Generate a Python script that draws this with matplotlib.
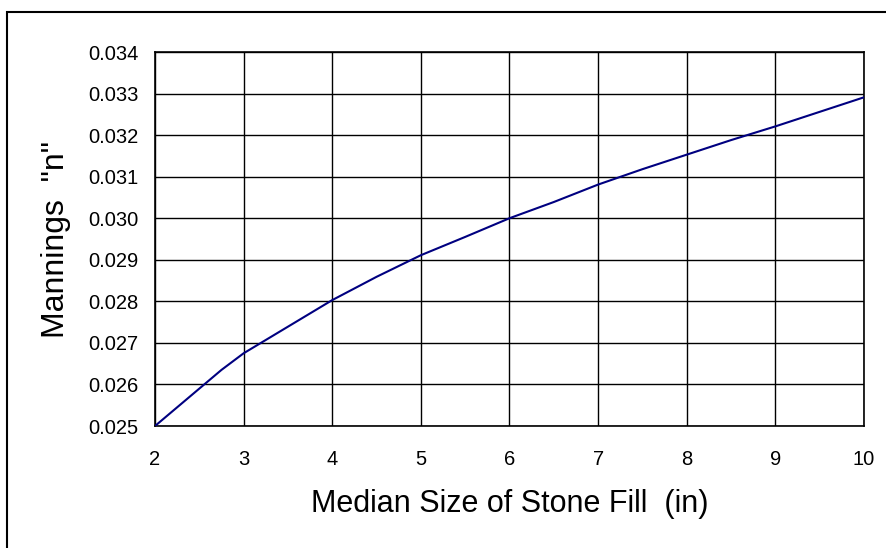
import matplotlib.pyplot as plt
from matplotlib.patches import Rectangle

plt.rcParams['font.family'] = ['Liberation Sans', 'DejaVu Sans']

# values
stone_size = [2, 2.5, 2.75, 3, 3.5, 4, 4.5, 5, 5.5, 6, 6.5, 7, 7.5, 8, 8.5, 9, 9.5, 10]
mannings_n = [0.0250, 0.02590, 0.02635, 0.02675, 0.02739, 0.02803, 0.02859, 0.02911,
              0.02955, 0.03000, 0.03039, 0.03081, 0.03118, 0.03153, 0.03188, 0.03221,
              0.03256, 0.03291]
x_ticks = [2, 3, 4, 5, 6, 7, 8, 9, 10]
y_ticks = [0.025, 0.026, 0.027, 0.028, 0.029, 0.030, 0.031, 0.032, 0.033, 0.034]

fig = plt.figure(figsize=(8.86, 5.48), dpi=100)
ax = fig.add_axes([155/886, 1 - 426/548, (864 - 155)/886, (426 - 52)/548])

ax.plot(stone_size, mannings_n, color='#000080', lw=1.5, zorder=3)

ax.set_xlim(2, 10)
ax.set_ylim(0.025, 0.034)
ax.set_xticks(x_ticks)
ax.set_yticks(y_ticks)
ax.set_yticklabels([f'{v:.3f}' for v in y_ticks])
ax.tick_params(axis='both', length=0, labelsize=14.5, colors='black')
ax.tick_params(axis='x', pad=17)
ax.tick_params(axis='y', pad=12)
ax.grid(True, color='black', lw=1)
for s in ax.spines.values():
    s.set_color('black')
    s.set_linewidth(1.2)

ax.set_xlabel('Median Size of Stone Fill  (in)', fontsize=22, labelpad=15)
ax.set_ylabel('Mannings  "n"', fontsize=23, labelpad=12)

# outer chart border (runs off right and bottom edges)
fig.patches.append(Rectangle((7/886, -0.05), 1.0, 1 - 12/548 + 0.05,
                             transform=fig.transFigure, fill=False,
                             edgecolor='black', lw=1.5))

fig.savefig('out.png', dpi=100)
